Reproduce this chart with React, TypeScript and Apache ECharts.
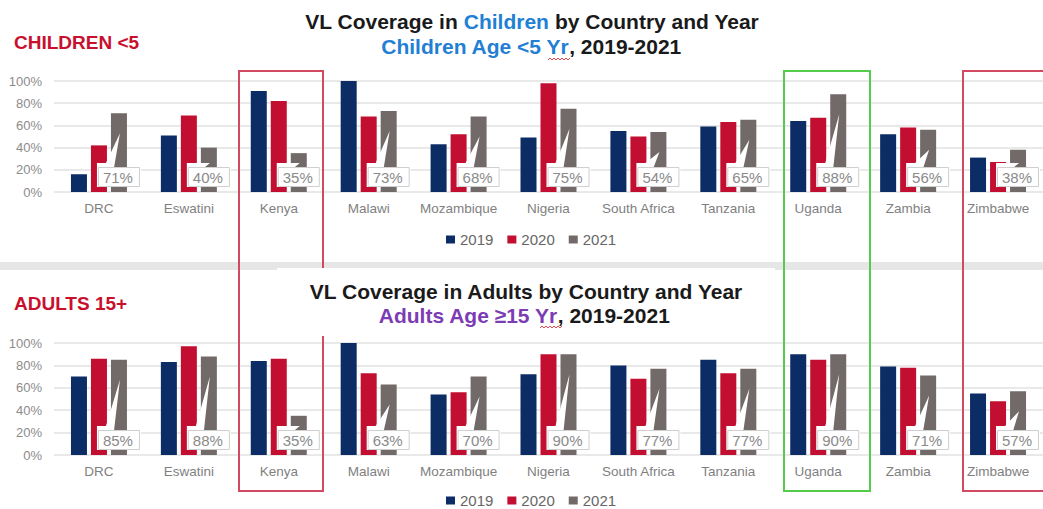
import React, { useEffect, useRef } from 'react';
import * as echarts from 'echarts';

const countries = ['DRC', 'Eswatini', 'Kenya', 'Malawi', 'Mozambique', 'Nigeria', 'South Africa', 'Tanzania', 'Uganda', 'Zambia', 'Zimbabwe'];
const years = ['2019', '2020', '2021'];
const children2019 = [16, 51, 91, 100, 43, 49, 55, 59, 64, 52, 31];
const children2020 = [42, 69, 82, 68, 52, 98, 50, 63, 67, 58, 27];
const children2021 = [71, 40, 35, 73, 68, 75, 54, 65, 88, 56, 38];
const adults2019 = [70, 83, 84, 100, 54, 72, 80, 85, 90, 79, 55];
const adults2020 = [86, 97, 86, 73, 56, 90, 68, 73, 85, 78, 48];
const adults2021 = [85, 88, 35, 63, 70, 90, 77, 77, 90, 71, 57];

const FONT = '"Liberation Sans", Arial, Helvetica, sans-serif';
const COLORS = ['#0b2c64', '#c20e31', '#716a68'];
const BAR_W = 16;
const BAR_GAP = 4;

function calloutRender(params: any, api: any) {
  const i = api.value(0);
  const v = api.value(1);
  const base = api.coord([i, 0]);
  const top = api.coord([i, v]);
  const cx = base[0] + BAR_W + BAR_GAP;
  const y0 = base[1];
  const apexY = Math.min(top[1] + 20, y0 - 29);
  return {
    type: 'group',
    children: [
      {
        type: 'polygon',
        shape: {
          points: [
            [cx - 22, y0 - 5], [cx - 22, y0 - 29], [cx - 13, y0 - 29], [cx + 1, apexY],
            [cx - 5, y0 - 24], [cx + 22, y0 - 24], [cx + 22, y0 - 5],
          ],
        },
        style: { fill: '#ffffff' },
      },
      {
        type: 'rect',
        shape: { x: cx - 20.5, y: y0 - 24.5, width: 41, height: 19 },
        style: { fill: '#ffffff', stroke: '#cfcfcf', lineWidth: 1 },
      },
      {
        type: 'text',
        x: cx - 1,
        y: y0 - 14.5,
        style: {
          text: v + '%',
          fill: '#8a8a8a',
          font: '15px ' + FONT,
          textAlign: 'center',
          textVerticalAlign: 'middle',
          align: 'center',
          verticalAlign: 'middle',
        },
      },
    ],
  };
}

function yAxis(gridIndex: number) {
  return {
    type: 'value', gridIndex, min: 0, max: 100, interval: 20,
    axisLabel: { formatter: '{value}%', color: '#8c8c8c', fontSize: 13, margin: 12, fontFamily: FONT },
    splitLine: { lineStyle: { color: '#e2e2e2', width: 1.5 } },
    axisLine: { show: false }, axisTick: { show: false },
  };
}
function xAxis(gridIndex: number) {
  return {
    type: 'category', gridIndex, data: countries,
    axisLabel: { color: '#7f7f7f', fontSize: 13.5, margin: 9, interval: 0, fontFamily: FONT },
    axisLine: { show: false }, axisTick: { show: false },
  };
}
function bars(idx: number, sets: number[][]) {
  return sets.map((d, k) => ({
    type: 'bar', name: years[k], xAxisIndex: idx, yAxisIndex: idx, data: d,
    barWidth: BAR_W, barGap: '25%', itemStyle: { color: COLORS[k] }, z: 2,
  }));
}
function callouts(idx: number, d: number[]) {
  return {
    type: 'custom', name: 'callout' + idx, xAxisIndex: idx, yAxisIndex: idx, z: 3,
    encode: { x: 0, y: 1 },
    data: d.map((v, i) => [i, v]),
    renderItem: calloutRender,
  };
}
function legend(top: number) {
  return {
    left: 446, top, itemWidth: 9, itemHeight: 8, itemGap: 14, icon: 'rect', padding: 0,
    selectedMode: false, data: years,
    textStyle: { color: '#666666', fontSize: 15, fontFamily: FONT },
  };
}
function wavy(x0: number, x1: number, y: number) {
  const pts: number[][] = [];
  let up = false;
  for (let x = x0; x <= x1; x += 2) { pts.push([x, up ? y - 2 : y]); up = !up; }
  return { type: 'polyline', z: 8, shape: { points: pts }, style: { stroke: '#e8484f', lineWidth: 1, fill: 'none' } };
}
const titleRich = (accent: string) => ({
  a: { fontSize: 21, fontWeight: 'bold', fontFamily: FONT, fill: '#1a1a1a', color: '#1a1a1a' },
  b: { fontSize: 21, fontWeight: 'bold', fontFamily: FONT, fill: accent, color: accent },
});
function titleText(x: number, y: number, text: string, accent: string) {
  return {
    type: 'text', x, y, z: 8,
    style: { text, rich: titleRich(accent), textAlign: 'center', textVerticalAlign: 'middle', align: 'center', verticalAlign: 'middle' },
  };
}

export default function App() {
  const ref = useRef<HTMLDivElement>(null);
  useEffect(() => {
    if (!ref.current) return;
    const chart = echarts.init(ref.current, undefined, { renderer: 'svg' });
    chart.setOption({
      animation: false,
      backgroundColor: '#ffffff',
      grid: [
        { left: 54, top: 81, width: 993, height: 111 },
        { left: 54, top: 343, width: 993, height: 112 },
      ],
      xAxis: [xAxis(0), xAxis(1)],
      yAxis: [yAxis(0), yAxis(1)],
      legend: [legend(232), legend(493)],
      series: [
        ...bars(0, [children2019, children2020, children2021]),
        callouts(0, children2021),
        ...bars(1, [adults2019, adults2020, adults2021]),
        callouts(1, adults2021),
      ],
      graphic: [
        { type: 'rect', z: 1, shape: { x: 0, y: 262, width: 1043, height: 8 }, style: { fill: '#e6e6e6' } },
        { type: 'rect', z: 5, shape: { x: 239, y: 71, width: 84, height: 420 }, style: { fill: 'none', stroke: '#d24a62', lineWidth: 2 } },
        { type: 'rect', z: 5, shape: { x: 784, y: 71, width: 86, height: 420 }, style: { fill: 'none', stroke: '#52cc4a', lineWidth: 2 } },
        { type: 'rect', z: 5, shape: { x: 963, y: 71, width: 120, height: 420 }, style: { fill: 'none', stroke: '#d24a62', lineWidth: 2 } },
        { type: 'rect', z: 6, shape: { x: 277, y: 268, width: 498, height: 68 }, style: { fill: '#ffffff' } },
        titleText(532, 21, '{a|VL Coverage in }{b|Children}{a| by Country and Year}', '#1f80d4'),
        titleText(531, 46, '{b|Children Age <5 Yr}{a|, 2019-2021}', '#1f80d4'),
        titleText(526, 291, '{a|VL Coverage in Adults by Country and Year}', '#7b3cb4'),
        titleText(524, 315, '{b|Adults Age ≥15 Yr}{a|, 2019-2021}', '#7b3cb4'),
        wavy(548, 570, 60),
        wavy(540, 562, 328),
        {
          type: 'text', z: 8, x: 14, y: 42,
          style: { text: 'CHILDREN <5', fill: '#c8102e', font: 'bold 19px ' + FONT, textVerticalAlign: 'middle', verticalAlign: 'middle' },
        },
        {
          type: 'text', z: 8, x: 14, y: 303,
          style: { text: 'ADULTS 15+', fill: '#c8102e', font: 'bold 19px ' + FONT, textVerticalAlign: 'middle', verticalAlign: 'middle' },
        },
      ],
    });
    return () => chart.dispose();
  }, []);
  return <div ref={ref} style={{ position: 'fixed', left: 0, top: 0, width: 1043, height: 509, background: '#fff' }} />;
}
